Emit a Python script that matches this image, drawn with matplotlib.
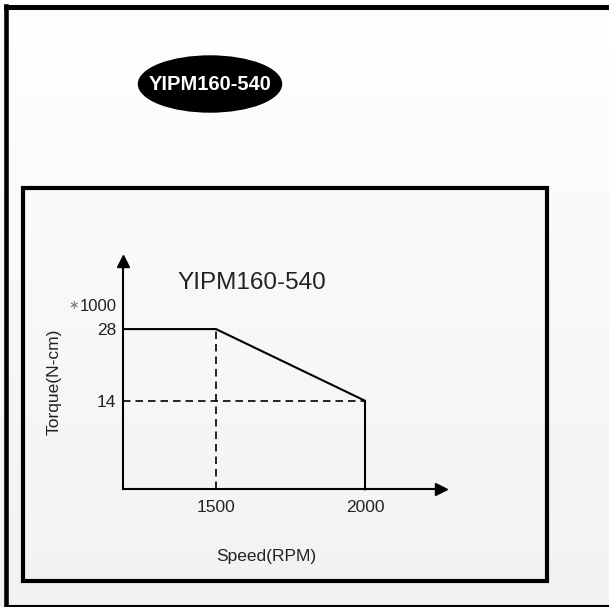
import numpy as np
import matplotlib
matplotlib.use("Agg")
from matplotlib import pyplot as plt
from matplotlib.patches import Rectangle, Ellipse
from matplotlib.lines import Line2D

plt.rcParams['font.family'] = ['Liberation Sans', 'DejaVu Sans']

# data (speed in RPM, torque in N-cm x 1000)
model = "YIPM160-540"
speed = [1189, 1500, 2000, 2000]
torque = [28, 28, 14, -3.3]
speed_ticks = [1500, 2000]
torque_ticks = [14, 28]
rated_speed = 1500
rated_torque = 28
max_speed = 2000
max_speed_torque = 14

W, H = 609, 607
fig = plt.figure(figsize=(W / 100, H / 100), dpi=100)

# background gradient (white at top to light grey at bottom)
bg = fig.add_axes([0, 0, 1, 1])
grad = np.linspace(255, 242, 200).reshape(-1, 1) / 255
bg.imshow(np.dstack([grad, grad, grad]), aspect='auto', extent=[0, W, H, 0])
bg.set_xlim(0, W)
bg.set_ylim(H, 0)
bg.axis('off')

# outer frame
bg.add_line(Line2D([6, 6], [6, 605], color='black', lw=3.3))
bg.add_line(Line2D([6, W + 5], [6.5, 6.5], color='black', lw=3.6))
bg.add_line(Line2D([6, W + 5], [605.5, 605.5], color='black', lw=1.5))
# inner frame
bg.add_patch(Rectangle((23, 187.5), 524, 393, fill=False, ec='black', lw=3.0))

# badge
bg.add_patch(Ellipse((210, 84), 143, 56, color='black'))
bg.text(210, 85, model, color='white', fontsize=14.5, fontweight='bold',
        ha='center', va='center')

# plot area, placed so the axes line up with the frame
left, right, top, bottom = 123.3, 441, 261, 489.3
ax = fig.add_axes([left / W, 1 - bottom / H, (right - left) / W, (bottom - top) / H])
ax.patch.set_alpha(0)
ax.set_xlim(1189, 2255)
ax.set_ylim(-3.3, 41.3)

ax.plot(speed, torque, color='black', lw=1.5, solid_joinstyle='miter', clip_on=False)
ax.plot([rated_speed, rated_speed], [-3.3, rated_torque], color='black', lw=1.2,
        linestyle=(0, (4.5, 3)))
ax.plot([1189, max_speed], [max_speed_torque, max_speed_torque], color='black', lw=1.2,
        linestyle=(0, (4.5, 3)))

for s in ['top', 'right']:
    ax.spines[s].set_visible(False)
for s in ['left', 'bottom']:
    ax.spines[s].set_linewidth(1.5)
ax.plot(1, 0, '>k', ms=9, transform=ax.transAxes, clip_on=False)
ax.plot(0, 1, '^k', ms=9, transform=ax.transAxes, clip_on=False)

ax.set_xticks(speed_ticks)
ax.set_xticklabels([str(v) for v in speed_ticks])
ax.set_yticks(torque_ticks)
ax.set_yticklabels([str(v) for v in torque_ticks])
ax.tick_params(axis='x', length=0, pad=8, labelsize=12.5, colors='#222222')
ax.tick_params(axis='y', length=0, pad=5, labelsize=12.5, colors='#222222')

ax.text(1369, 37, model, fontsize=17.5, color='#222222', ha='left', va='center')
ax.text(-0.02, 0.8, "1000", transform=ax.transAxes, fontsize=12,
        color='#222222', ha='right', va='center')
ax.text(-0.14, 0.805, "\u2217", transform=ax.transAxes, fontsize=9,
        color='#777777', ha='right', va='center')
ax.set_xlabel("Speed(RPM)", fontsize=12.5, color='#222222')
ax.xaxis.set_label_coords((266 - left) / (right - left), -(549 - bottom) / (bottom - top))
ax.set_ylabel("Torque(N-cm)", fontsize=12.5, color='#222222')
ax.yaxis.set_label_coords(-(left - 62) / (right - left), (bottom - 382) / (bottom - top))

fig.savefig("out.png", dpi=100)
